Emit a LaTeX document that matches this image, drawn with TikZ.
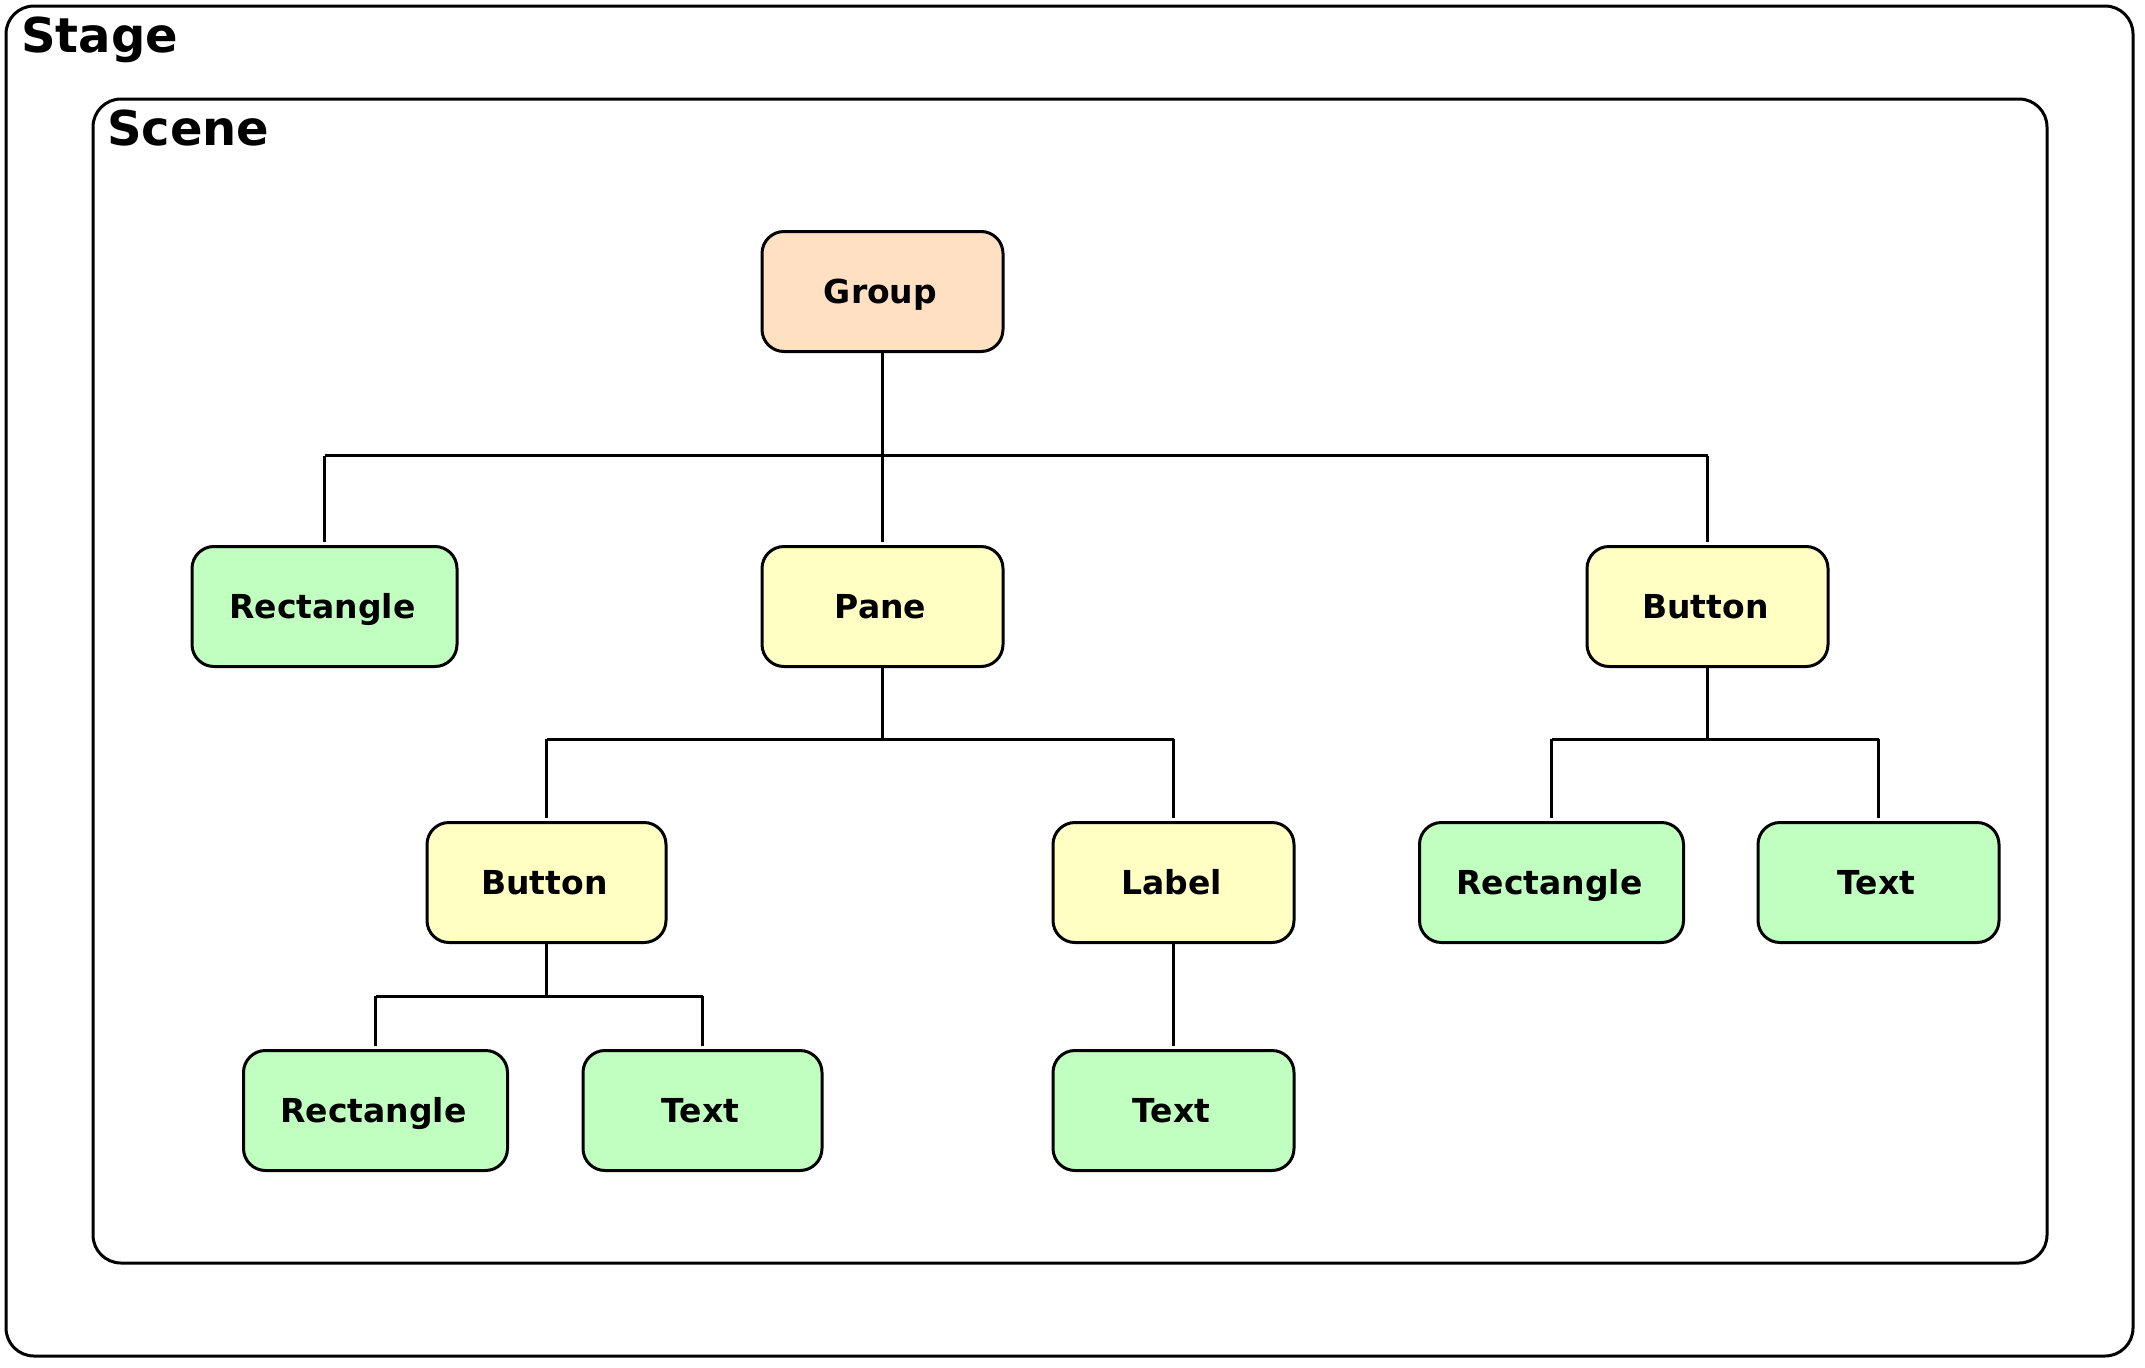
\documentclass[tikz,border=0pt]{standalone}
\usepackage{fontspec}
\setmainfont{DejaVu Sans}
\begin{document}
\begin{tikzpicture}[x=1pt,y=-1pt,
  box/.style={draw=black,line width=3pt,rounded corners=22pt,inner sep=0pt,minimum height=120pt,minimum width=241pt,text height=24pt,text depth=0pt,font=\fontsize{33}{39}\selectfont\bfseries,execute at begin node={\hspace*{-4pt}}},
  peach/.style={box,fill=peachc},
  yel/.style={box,fill=yelc},
  grn/.style={box,fill=grnc},
  wide/.style={minimum width=264pt},
  conn/.style={line width=3pt},
  frame/.style={draw=black,line width=3pt,rounded corners=28pt},
  title/.style={anchor=base west,inner sep=0pt,font=\fontsize{48}{56}\selectfont\bfseries}]
\definecolor{peachc}{HTML}{FFE0C2}
\definecolor{yelc}{HTML}{FFFFC4}
\definecolor{grnc}{HTML}{C0FFC0}
\useasboundingbox (0,0) rectangle (2145,1368);
\fill[white] (0,0) rectangle (2145,1368);
% frames
\draw[frame] (6,6) rectangle (2133,1356);
\node[title] (stage) at (21,52) {Stage};
\draw[frame] (93,99) rectangle (2047,1263);
\node[title] (scene) at (107,145) {Scene};
% nodes
\node[peach] (group) at (882.5,291.5) {Group};
\node[grn,wide,minimum width=265pt] (rect1) at (324.5,606.5) {Rectangle};
\node[yel] (pane) at (882.5,606.5) {Pane};
\node[yel] (btnR) at (1707.5,606.5) {Button};
\node[yel,minimum width=239pt] (btnL) at (546.5,882.5) {Button};
\node[yel] (label) at (1173.5,882.5) {Label};
\node[grn,wide] (rectR) at (1551.5,882.5) {Rectangle};
\node[grn] (textR) at (1878.5,882.5) {Text};
\node[grn,wide] (rectL) at (375.5,1110.5) {Rectangle};
\node[grn,minimum width=239pt] (textL) at (702.5,1110.5) {Text};
\node[grn] (textM) at (1173.5,1110.5) {Text};
% junction levels
\coordinate (j1) at (882,455.5);
\coordinate (j2) at (882,739);
\coordinate (j3) at (546,996);
% connectors
\draw[conn] (group.south) -- ([yshift=3pt]pane.north);
\draw[conn] (rect1.north |- j1) -- (btnR.north |- j1);
\draw[conn] (rect1.north |- j1) -- ([yshift=3pt]rect1.north);
\draw[conn] (btnR.north |- j1) -- ([yshift=3pt]btnR.north);
\draw[conn] (pane.south) -- (pane.south |- j2);
\draw[conn] (btnL.north |- j2) -- (label.north |- j2);
\draw[conn] (btnL.north |- j2) -- ([yshift=3pt]btnL.north);
\draw[conn] (label.north |- j2) -- ([yshift=3pt]label.north);
\draw[conn] (btnR.south) -- (btnR.south |- j2);
\draw[conn] (rectR.north |- j2) -- (textR.north |- j2);
\draw[conn] (rectR.north |- j2) -- ([yshift=3pt]rectR.north);
\draw[conn] (textR.north |- j2) -- ([yshift=3pt]textR.north);
\draw[conn] (btnL.south) -- (btnL.south |- j3);
\draw[conn] (rectL.north |- j3) -- (textL.north |- j3);
\draw[conn] (rectL.north |- j3) -- ([yshift=3pt]rectL.north);
\draw[conn] (textL.north |- j3) -- ([yshift=3pt]textL.north);
\draw[conn] (label.south) -- ([yshift=3pt]textM.north);
\end{tikzpicture}
\end{document}
